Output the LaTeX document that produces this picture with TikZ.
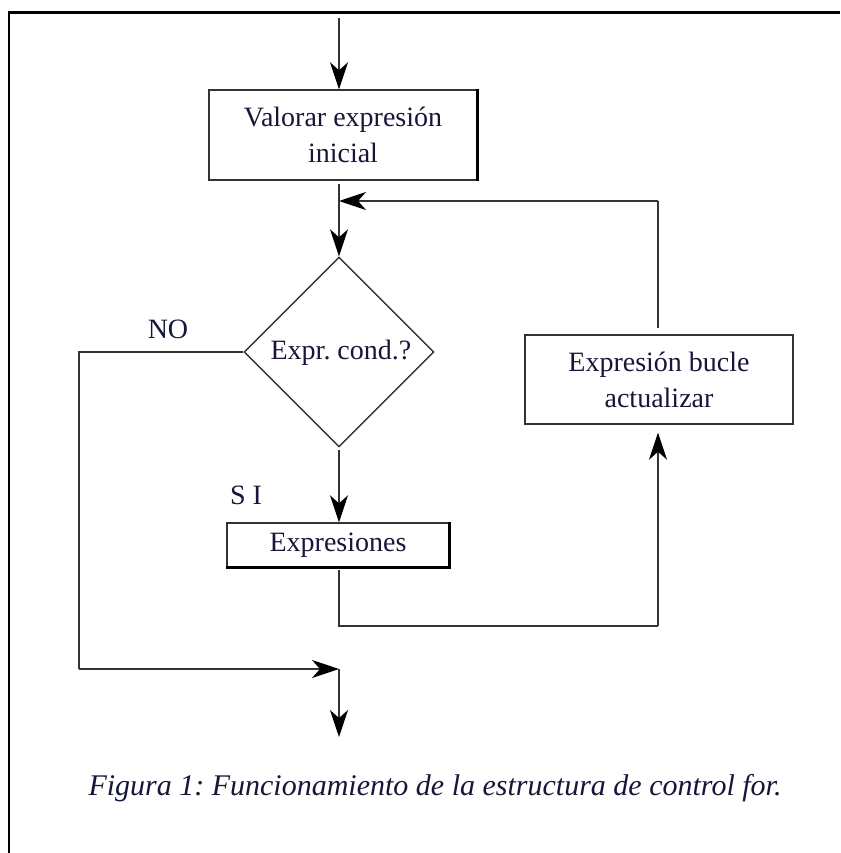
\documentclass[tikz,border=0pt]{standalone}
\usepackage{fontspec}
\setmainfont{Liberation Serif}
\frenchspacing
\usetikzlibrary{arrows.meta,shapes.geometric}
\definecolor{ink}{HTML}{16163A}
\definecolor{wire}{HTML}{333333}
\begin{document}
\begin{tikzpicture}[x=1pt,y=-1pt,
  every node/.style={font=\fontsize{28}{36}\selectfont,text=ink},
  wirel/.style={draw=wire,line width=1.4pt},
  arr/.style={wirel,-{Stealth[length=27pt,width=18pt,inset=8pt,black]}},
  procbox/.style={draw=wire,line width=1.4pt,rectangle,inner sep=0pt,align=center},
  decision/.style={draw=wire,line width=1.4pt,diamond,aspect=1,inner sep=0pt,
    minimum width=190pt,minimum height=190pt},
  lbl/.style={inner sep=0pt}
]
\useasboundingbox (0,0) rectangle (840,853);
% page frame
\draw[line width=2.2pt,black] (9,853) -- (9,12.5) -- (840,12.5);

% nodes
\coordinate (start) at (339,18);
\node[procbox,minimum width=268pt,minimum height=90pt] (init) at (343,135)
  {Valorar expresión\\inicial};
\coordinate (join) at (339,201);
\node[decision] (cond) at (339,352) {};
\node[lbl] (condtext) at (341,353) {Expr. cond.?};
\node[procbox,minimum width=222pt,minimum height=44pt] (body) at (338,545) {Expresiones};
\node[procbox,minimum width=268pt,minimum height=89pt] (upd) at (659,379.5)
  {Expresión bucle\\actualizar};
\coordinate (nocorner) at (79,352);
\coordinate (nodown) at (79,669);
\coordinate (merge) at (339,669);
\coordinate (finish) at (339,737);
\coordinate (bodydown) at (339,626);
\coordinate (updcorner) at (658,626);
\coordinate (updtop) at (658,328);
\coordinate (backcorner) at (658,201);

% shadow-like heavier edges on the boxes
\draw[black,line width=3pt] (init.north east) -- (init.south east);
\draw[black,line width=3pt] (body.north east) -- (body.south east) -- (body.south west);

% labels
\node[lbl] (nolbl) at (168,329) {NO};
\node[lbl] (silbl) at (246,495) {S I};

% connectors
\draw[arr] (start) -- (start |- init.north);
\draw[wirel] (init.south -| join) ++(0,3) -- (join);
\draw[arr] (join) -- (cond.north);
\draw[arr] (backcorner) -- (join);
\draw[wirel] (updtop) -- (backcorner);
\draw[arr] (cond.south) ++(0,2) -- (cond.south |- body.north);
\draw[wirel] (bodydown |- body.south) ++(0,2) -- (bodydown) -- (updcorner);
\draw[arr,shorten >=8pt] (updcorner) -- (updcorner |- upd.south);
\draw[wirel] (cond.west) -- (nocorner) -- (nodown);
\draw[arr] (nodown) -- (merge);
\draw[arr] (merge) -- (finish);

% caption
\node[lbl,font=\fontsize{30}{34}\selectfont\itshape] (caption) at (435,788)
  {Figura 1: Funcionamiento de la estructura de control for.};
\end{tikzpicture}
\end{document}
